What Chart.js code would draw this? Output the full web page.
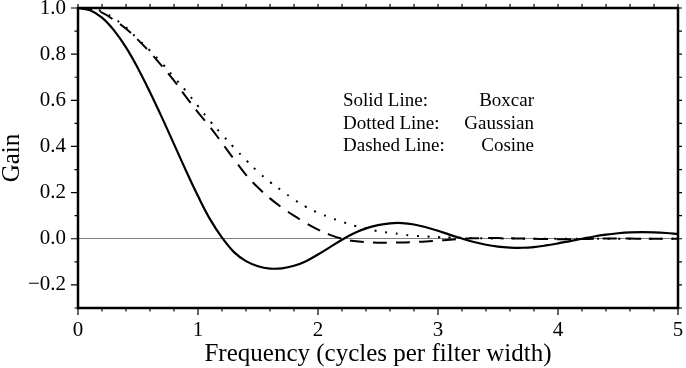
<!DOCTYPE html>
<html>
<head>
<meta charset="utf-8">
<script src="https://cdn.jsdelivr.net/npm/chart.js@4"></script>
<style>
  html, body { margin: 0; padding: 0; background: #fff; }
  #wrap { width: 686px; height: 368px; }
</style>
</head>
<body>
<div id="wrap"><canvas id="chart" width="686" height="368"></canvas></div>
<script>
// Data
const freq = [0.0, 0.1, 0.2, 0.3, 0.4, 0.5, 0.6, 0.7, 0.8, 0.9,
  1.0, 1.1, 1.2, 1.3, 1.4, 1.5, 1.6, 1.7, 1.8, 1.9,
  2.0, 2.1, 2.2, 2.3, 2.4, 2.5, 2.6, 2.7, 2.8, 2.9,
  3.0, 3.1, 3.2, 3.3, 3.4, 3.5, 3.6, 3.7, 3.8, 3.9,
  4.0, 4.1, 4.2, 4.3, 4.4, 4.5, 4.6, 4.7, 4.8, 4.9, 5.0];

const boxcar = [1.0, 0.99, 0.958, 0.903, 0.829, 0.738, 0.635, 0.525, 0.41, 0.295,
  0.185, 0.085, 0.005, -0.058, -0.097, -0.119, -0.129, -0.128, -0.117, -0.097,
  -0.068, -0.036, -0.004, 0.024, 0.045, 0.059, 0.067, 0.068, 0.062, 0.05,
  0.035, 0.017, 0.001, -0.014, -0.026, -0.034, -0.038, -0.039, -0.036, -0.029,
  -0.02, -0.01, 0.0, 0.01, 0.018, 0.024, 0.028, 0.029, 0.028, 0.025, 0.02];

const gaussian = [1.0, 0.997, 0.985, 0.955, 0.915, 0.865, 0.815, 0.76, 0.70, 0.64,
  0.575, 0.51, 0.452, 0.395, 0.341, 0.29, 0.246, 0.208, 0.17, 0.138,
  0.113, 0.092, 0.074, 0.057, 0.044, 0.033, 0.026, 0.019, 0.013, 0.01,
  0.007, 0.005, 0.004, 0.003, 0.002, 0.001, 0.001, 0.0, 0.0, 0.0,
  0.0, 0.0, 0.0, 0.0, 0.0, 0.0, 0.0, 0.0, 0.0, 0.0, 0.0];

const cosine = [1.0, 0.995, 0.98, 0.948, 0.91, 0.862, 0.808, 0.748, 0.685, 0.615,
  0.548, 0.485, 0.415, 0.345, 0.277, 0.222, 0.175, 0.135, 0.1, 0.068,
  0.04, 0.017, 0.0, -0.01, -0.015, -0.017, -0.017, -0.016, -0.014, -0.012,
  -0.008, -0.004, 0.0, 0.002, 0.003, 0.003, 0.002, 0.001, 0.0, -0.001,
  -0.002, -0.002, -0.001, 0.0, 0.001, 0.001, 0.001, 0.0, 0.0, 0.0, 0.0];

const xTicks = [0, 1, 2, 3, 4, 5];
const yTicks = [-0.2, 0.0, 0.2, 0.4, 0.6, 0.8, 1.0];
const legendLabels = ['Solid Line:', 'Dotted Line:', 'Dashed Line:'];
const legendNames = ['Boxcar', 'Gaussian', 'Cosine'];

const serif = '"Liberation Serif", "DejaVu Serif", serif';

function points(values) {
  return freq.map((f, i) => ({ x: f, y: values[i] }));
}

// Frame, outward ticks on all sides, and the text key
const framePlugin = {
  id: 'frame',
  afterDraw(chart) {
    const { ctx, chartArea: a } = chart;
    const x = chart.scales.x;
    const y = chart.scales.y;
    ctx.save();
    ctx.strokeStyle = '#000';
    ctx.lineWidth = 1.2;
    ctx.beginPath();
    for (let i = 0; i <= 25; i++) {
      const px = x.getPixelForValue(i * 0.2);
      const len = i % 5 === 0 ? 7 : 3.5;
      ctx.moveTo(px, a.bottom);
      ctx.lineTo(px, a.bottom + len);
      ctx.moveTo(px, a.top);
      ctx.lineTo(px, a.top - 4);
    }
    for (let i = -3; i <= 10; i++) {
      const py = y.getPixelForValue(i / 10);
      const len = i % 2 === 0 ? 7 : 3.5;
      ctx.moveTo(a.left, py);
      ctx.lineTo(a.left - len, py);
      ctx.moveTo(a.right, py);
      ctx.lineTo(a.right + 4, py);
    }
    ctx.stroke();

    ctx.lineWidth = 2.5;
    ctx.strokeRect(a.left, a.top, a.right - a.left, a.bottom - a.top);

    ctx.fillStyle = '#000';
    ctx.font = '19px ' + serif;
    ctx.textBaseline = 'middle';
    legendLabels.forEach((label, i) => {
      const py = 101 + i * 22.7;
      ctx.textAlign = 'left';
      ctx.fillText(label, 343, py);
      ctx.textAlign = 'right';
      ctx.fillText(legendNames[i], 534, py);
    });
    ctx.restore();
  }
};

const ctx = document.getElementById('chart').getContext('2d');
const chart = new Chart(ctx, {
  type: 'line',
  data: {
    datasets: [
      {
        label: 'Cosine',
        data: points(cosine),
        borderColor: '#000',
        borderWidth: 2,
        borderDash: [14, 9],
        pointRadius: 0,
        tension: 0.4
      },
      {
        label: 'Gaussian',
        data: points(gaussian),
        borderColor: '#000',
        borderWidth: 2,
        borderDash: [2, 8.6],
        pointRadius: 0,
        tension: 0.4
      },
      {
        label: 'Boxcar',
        data: points(boxcar),
        borderColor: '#000',
        borderWidth: 2.2,
        pointRadius: 0,
        tension: 0.4
      }
    ]
  },
  options: {
    responsive: false,
    animation: false,
    devicePixelRatio: 1,
    layout: { padding: { left: 0, top: 8, right: 8, bottom: 0 } },
    plugins: {
      legend: { display: false },
      tooltip: { enabled: false }
    },
    scales: {
      x: {
        type: 'linear',
        min: 0,
        max: 5,
        afterBuildTicks: s => { s.ticks = xTicks.map(v => ({ value: v })); },
        afterFit: s => {
          s.height = 60;
          s.paddingLeft = 0;
          s.paddingRight = 0;
        },
        grid: { display: false },
        border: { display: false },
        ticks: {
          color: '#000',
          padding: 2,
          maxRotation: 0,
          font: { family: serif, size: 21 },
          callback: v => String(v)
        },
        title: {
          display: true,
          text: 'Frequency (cycles per filter width)',
          color: '#000',
          font: { family: serif, size: 25, lineHeight: 1.1 },
          padding: { top: 0, bottom: 0 }
        }
      },
      y: {
        type: 'linear',
        min: -0.3,
        max: 1.0,
        afterBuildTicks: s => { s.ticks = yTicks.map(v => ({ value: v })); },
        afterFit: s => {
          s.width = 78;
          s.paddingTop = 0;
          s.paddingBottom = 0;
        },
        grid: {
          drawTicks: false,
          lineWidth: 1,
          color: c => (c.tick && c.tick.value === 0 ? '#808080' : 'rgba(0,0,0,0)')
        },
        border: { display: false },
        ticks: {
          color: '#000',
          padding: 12,
          font: { family: serif, size: 21 },
          callback: v => (v < 0 ? '\u2212' + Math.abs(v).toFixed(1) : v.toFixed(1))
        },
        title: {
          display: true,
          text: 'Gain',
          color: '#000',
          font: { family: serif, size: 25, lineHeight: 1.0 },
          padding: { top: 0, bottom: 0 }
        }
      }
    }
  },
  plugins: [framePlugin]
});
</script>
</body>
</html>
